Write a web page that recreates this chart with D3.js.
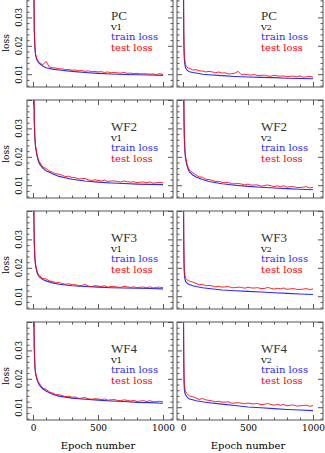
<!DOCTYPE html>
<html><head><meta charset="utf-8">
<script src="https://cdn.jsdelivr.net/npm/d3@7/dist/d3.min.js"></script>
<style>body{margin:0;background:#fff}svg{display:block}</style>
</head><body><svg id="c" width="325" height="453"></svg>
<script>
const epochsTest=[0,2,4,6,8,10,15,20,30,40,50,75,100,125,150,175,200,225,250,275,300,325,350,375,400,425,450,475,500,525,550,575,600,625,650,675,700,725,750,775,800,825,850,875,900,925,950,975,1000];
const epochsTrain=[0,2,4,6,8,10,15,20,30,40,50,75,100,150,200,300,400,500,600,700,800,900,1000];
const models=["PC","WF2","WF3","WF4"];
const versions=["V1","V2"];

const trainPC_V1=[0.150,0.088,0.058,0.043,0.034,0.025,0.0190,0.0166,0.0151,0.0143,0.0137,0.0129,0.0123,0.0118,0.0115,0.0110,0.0106,0.0103,0.0101,0.0099,0.0098,0.0097,0.0096];
const testPC_V1=[0.150,0.090,0.060,0.045,0.035,0.026,0.0195,0.0170,0.0154,0.0146,
0.0141,0.0133,0.0145,0.0126,0.0123,0.0122,0.0119,0.0119,0.0116,0.0117,
0.0114,0.0115,0.0112,0.0113,0.0110,0.0112,0.0109,0.0110,0.0108,0.0109,
0.0106,0.0108,0.0105,0.0106,0.0105,0.0104,0.0106,0.0103,0.0104,0.0102,
0.0103,0.0101,0.0102,0.0101,0.0100,0.0101,0.0099,0.0102,0.0099];

const trainPC_V2=[0.150,0.068,0.038,0.024,0.018,0.0155,0.0132,0.0122,0.0115,0.0111,0.0109,0.0106,0.0104,0.0100,0.0098,0.0095,0.0092,0.0090,0.0089,0.0088,0.0086,0.0085,0.0084];
const testPC_V2=[0.150,0.070,0.040,0.026,0.020,0.0170,0.0145,0.0134,0.0126,0.0121,
0.0121,0.0115,0.0116,0.0112,0.0111,0.0108,0.0110,0.0108,0.0105,0.0108,
0.0104,0.0105,0.0101,0.0102,0.0104,0.0110,0.0098,0.0100,0.0098,0.0097,
0.0099,0.0095,0.0096,0.0097,0.0094,0.0093,0.0096,0.0094,0.0093,0.0094,
0.0091,0.0093,0.0093,0.0091,0.0094,0.0089,0.0091,0.0092,0.0090];

const trainWF2_V1=[0.150,0.098,0.068,0.050,0.039,0.032,0.0258,0.0232,0.0206,0.0187,0.0175,0.0160,0.0151,0.0140,0.0131,0.0121,0.0115,0.0111,0.0108,0.0106,0.0104,0.0103,0.0102];
const testWF2_V1=[0.150,0.100,0.070,0.052,0.040,0.033,0.0265,0.0238,0.0212,0.0192,
0.0182,0.0164,0.0159,0.0150,0.0146,0.0140,0.0139,0.0135,0.0130,0.0132,
0.0127,0.0127,0.0122,0.0123,0.0124,0.0119,0.0117,0.0119,0.0117,0.0115,
0.0118,0.0113,0.0115,0.0115,0.0113,0.0111,0.0115,0.0112,0.0111,0.0112,
0.0109,0.0111,0.0111,0.0109,0.0112,0.0107,0.0109,0.0110,0.0108];

const trainWF2_V2=[0.150,0.088,0.058,0.042,0.032,0.027,0.0215,0.0192,0.0170,0.0156,0.0147,0.0136,0.0129,0.0120,0.0113,0.0105,0.0100,0.0096,0.0093,0.0090,0.0088,0.0086,0.0084];
const testWF2_V2=[0.150,0.090,0.060,0.044,0.034,0.028,0.0225,0.0200,0.0176,0.0162,
0.0153,0.0144,0.0136,0.0129,0.0128,0.0121,0.0120,0.0117,0.0113,0.0114,
0.0110,0.0110,0.0110,0.0105,0.0105,0.0106,0.0104,0.0101,0.0104,0.0100,
0.0101,0.0101,0.0097,0.0098,0.0101,0.0098,0.0095,0.0098,0.0095,0.0098,
0.0093,0.0095,0.0095,0.0092,0.0092,0.0093,0.0095,0.0090,0.0093];

const trainWF3_V1=[0.150,0.088,0.058,0.043,0.034,0.028,0.0228,0.0206,0.0185,0.0174,0.0167,0.0159,0.0154,0.0147,0.0142,0.0137,0.0134,0.0132,0.0130,0.0129,0.0128,0.0127,0.0126];
const testWF3_V1=[0.150,0.090,0.060,0.044,0.035,0.029,0.0235,0.0212,0.0190,0.0178,
0.0173,0.0162,0.0161,0.0154,0.0152,0.0147,0.0148,0.0145,0.0142,0.0144,
0.0140,0.0141,0.0137,0.0138,0.0141,0.0136,0.0134,0.0137,0.0136,0.0134,
0.0137,0.0132,0.0134,0.0135,0.0132,0.0131,0.0135,0.0133,0.0131,0.0133,
0.0130,0.0132,0.0132,0.0130,0.0133,0.0129,0.0131,0.0132,0.0130];

const trainWF3_V2=[0.150,0.073,0.043,0.028,0.021,0.0180,0.0160,0.0152,0.0147,0.0143,0.0141,0.0137,0.0134,0.0130,0.0127,0.0122,0.0119,0.0117,0.0115,0.0112,0.0110,0.0108,0.0106];
const testWF3_V2=[0.150,0.075,0.045,0.030,0.023,0.0195,0.0172,0.0163,0.0158,0.0155,
0.0153,0.0150,0.0145,0.0140,0.0142,0.0137,0.0138,0.0136,0.0133,0.0135,
0.0132,0.0133,0.0134,0.0130,0.0130,0.0132,0.0131,0.0128,0.0132,0.0129,
0.0129,0.0130,0.0127,0.0127,0.0131,0.0128,0.0125,0.0128,0.0126,0.0129,
0.0124,0.0126,0.0127,0.0124,0.0124,0.0125,0.0127,0.0123,0.0126];

const trainWF4_V1=[0.150,0.098,0.068,0.050,0.038,0.030,0.0238,0.0216,0.0198,0.0186,0.0177,0.0165,0.0157,0.0146,0.0139,0.0132,0.0128,0.0125,0.0122,0.0120,0.0117,0.0116,0.0114];
const testWF4_V1=[0.150,0.100,0.070,0.052,0.039,0.031,0.0245,0.0222,0.0203,0.0190,
0.0183,0.0167,0.0163,0.0154,0.0150,0.0144,0.0144,0.0141,0.0137,0.0139,
0.0135,0.0136,0.0131,0.0132,0.0134,0.0130,0.0128,0.0130,0.0129,0.0127,
0.0129,0.0125,0.0126,0.0127,0.0124,0.0123,0.0126,0.0124,0.0122,0.0124,
0.0120,0.0122,0.0123,0.0120,0.0123,0.0119,0.0120,0.0121,0.0119];

const trainWF4_V2=[0.150,0.073,0.040,0.026,0.0195,0.0165,0.0150,0.0143,0.0137,0.0132,0.0129,0.0126,0.0123,0.0119,0.0116,0.0111,0.0106,0.0101,0.0098,0.0095,0.0092,0.0090,0.0088];
const testWF4_V2=[0.150,0.075,0.042,0.028,0.021,0.0180,0.0162,0.0155,0.0148,0.0143,
0.0140,0.0137,0.0132,0.0127,0.0131,0.0126,0.0124,0.0122,0.0119,0.0121,
0.0118,0.0118,0.0119,0.0114,0.0115,0.0116,0.0114,0.0112,0.0115,0.0112,
0.0112,0.0113,0.0109,0.0110,0.0113,0.0110,0.0107,0.0110,0.0107,0.0110,
0.0105,0.0107,0.0108,0.0104,0.0105,0.0106,0.0107,0.0103,0.0106];

const xMajorTicks=[0,500,1000];
const xMinorTicks=[100,200,300,400,600,700,800,900];
const yMajorTicks=[0.01,0.02,0.03,0.04];
const yMinorTicks=[0.006,0.008,0.012,0.014,0.016,0.018,0.022,0.024,0.026,0.028,0.032,0.034,0.036,0.038];
const yTickLabels=["0.01","0.02","0.03"];
const legendTrain="train loss", legendTest="test loss";
const yLabel="loss", xLabel="Epoch number";

const panels=[
 {m:"PC",v:"V1",train:trainPC_V1,test:testPC_V1},
 {m:"PC",v:"V2",train:trainPC_V2,test:testPC_V2},
 {m:"WF2",v:"V1",train:trainWF2_V1,test:testWF2_V1},
 {m:"WF2",v:"V2",train:trainWF2_V2,test:testWF2_V2},
 {m:"WF3",v:"V1",train:trainWF3_V1,test:testWF3_V1},
 {m:"WF3",v:"V2",train:trainWF3_V2,test:testWF3_V2},
 {m:"WF4",v:"V1",train:trainWF4_V1,test:testWF4_V1},
 {m:"WF4",v:"V2",train:trainWF4_V2,test:testWF4_V2}
];

const svg=d3.select("#c");
const FONT="'DejaVu Serif', serif";
const TFONT="'Liberation Serif', 'Times New Roman', serif";
const FRAME="#555";
const BLUE="#2a2aff", RED="#ff0000";
const colX=[27,177], panelW=146, panelH=98, rowBottom=[87,198,309,420];

panels.forEach((p,i)=>{
  const col=i%2,row=Math.floor(i/2);
  const x0=colX[col], yb=rowBottom[row], yt=yb-panelH;
  const x=d3.scaleLinear().domain([0,1000]).range([x0+6,x0+136]);
  const y=d3.scaleLinear().domain([0.0055,0.04]).range([yb,yt]);
  const g=svg.append("g");
  const cid="clip"+i;
  g.append("clipPath").attr("id",cid).append("rect")
    .attr("x",x0).attr("y",yt).attr("width",panelW).attr("height",panelH);
  const line=d3.line().x(d=>x(d[0])).y(d=>y(d[1]));
  const lg=g.append("g").attr("clip-path",`url(#${cid})`);
  lg.append("path").datum(d3.zip(epochsTrain,p.train)).attr("d",line)
    .attr("fill","none").attr("stroke",BLUE).attr("stroke-width",1.1);
  lg.append("path").datum(d3.zip(epochsTest,p.test)).attr("d",line)
    .attr("fill","none").attr("stroke",RED).attr("stroke-width",1.0).attr("stroke-opacity",0.85);

  g.append("rect").attr("x",x0).attr("y",yt).attr("width",panelW).attr("height",panelH)
    .attr("fill","none").attr("stroke",FRAME).attr("stroke-width",1);

  const axes=[
    [d3.axisBottom(x),`translate(0,${yb})`,xMajorTicks,xMinorTicks],
    [d3.axisTop(x),`translate(0,${yt})`,xMajorTicks,xMinorTicks],
    [d3.axisLeft(y),`translate(${x0},0)`,yMajorTicks,yMinorTicks],
    [d3.axisRight(y),`translate(${x0+panelW},0)`,yMajorTicks,yMinorTicks]
  ];
  axes.forEach(([ax,tr,maj,min])=>{
    const gm=g.append("g").attr("transform",tr)
      .call(ax.tickValues(maj).tickSizeInner(-5).tickSizeOuter(0).tickFormat(""));
    const gn=g.append("g").attr("transform",tr)
      .call(ax.tickValues(min).tickSizeInner(-2.5).tickSizeOuter(0).tickFormat(""));
    [gm,gn].forEach(s=>{s.select(".domain").remove();s.selectAll("line").attr("stroke",FRAME);s.selectAll("text").remove();});
  });

  if(row===3){
    g.append("g").attr("transform",`translate(0,${yb})`)
      .call(d3.axisBottom(x).tickValues(xMajorTicks).tickSize(0).tickPadding(5).tickFormat(d3.format("d")))
      .call(s=>{s.select(".domain").remove();s.selectAll("text").attr("font-family",FONT).attr("font-size",9).attr("fill","#000");});
    g.append("text").attr("x",x(500)).attr("y",yb+29).attr("text-anchor","middle")
      .attr("font-family",FONT).attr("font-size",10).attr("fill","#000").text(xLabel);
  }
  if(col===0){
    yTickLabels.forEach((t,k)=>{
      g.append("text").attr("transform",`translate(${x0-8.5},${y(yMajorTicks[k])}) rotate(-90)`)
        .attr("text-anchor","middle").attr("dominant-baseline","central")
        .attr("font-family",FONT).attr("font-size",8.5).attr("fill","#000").text(t);
    });
    g.append("text").attr("transform",`translate(5.5,${yb-44}) rotate(-90)`)
      .attr("text-anchor","middle").attr("dominant-baseline","central")
      .attr("font-family",FONT).attr("font-size",9).attr("fill","#000").text(yLabel);
  }
  const tx=x0+84;
  g.append("text").attr("x",tx).attr("y",yb-67.5).attr("font-family",TFONT).attr("font-size",13).attr("fill","#333").text(p.m);
  g.append("text").attr("x",tx).attr("y",yb-57).attr("font-family",FONT).attr("font-size",8).attr("fill","#000").text(p.v);
  g.append("text").attr("x",tx).attr("y",yb-47).attr("font-family",FONT).attr("font-size",10).attr("fill",BLUE).text(legendTrain);
  g.append("text").attr("x",tx).attr("y",yb-36.5).attr("font-family",FONT).attr("font-size",10).attr("fill",RED).text(legendTest);
});
</script></body></html>
